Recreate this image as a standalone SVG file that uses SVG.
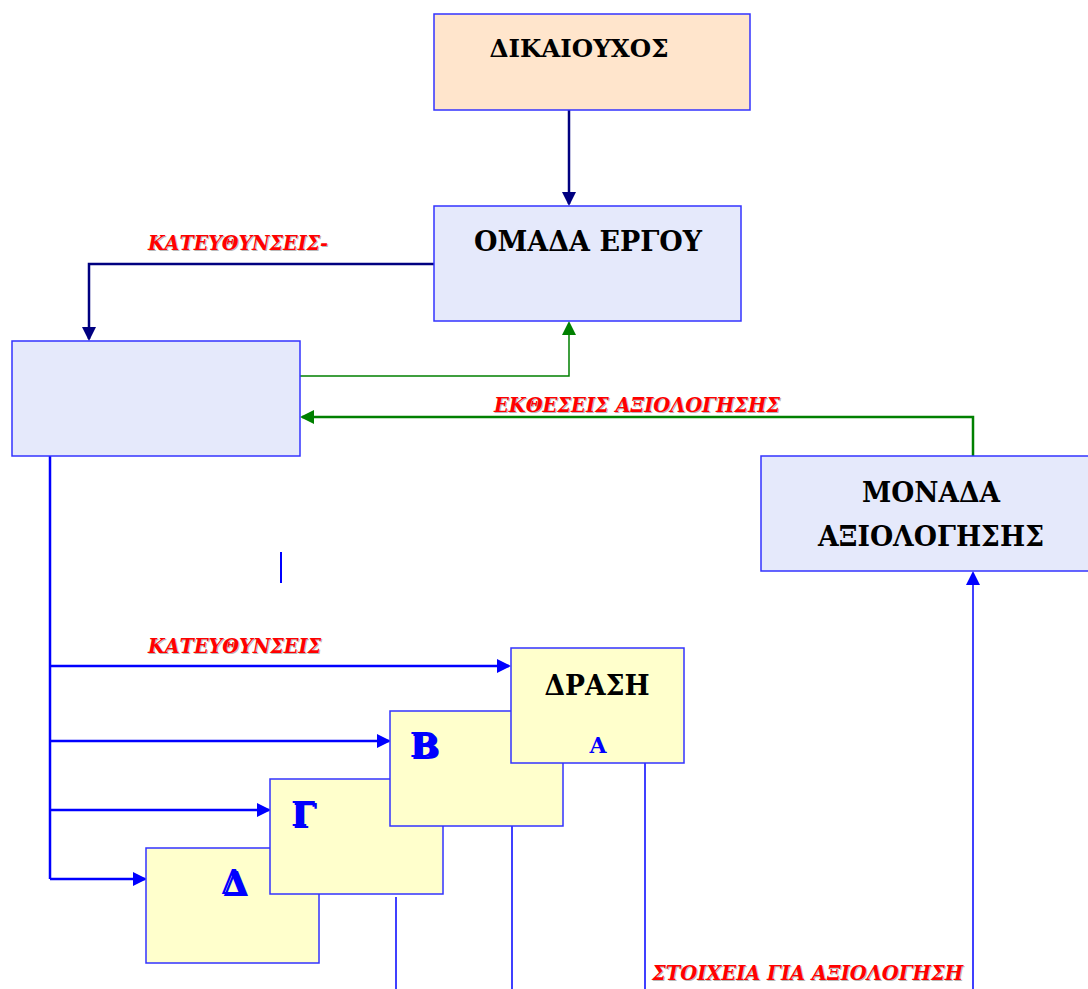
<svg xmlns="http://www.w3.org/2000/svg" width="1088" height="989" viewBox="0 0 1088 989">
<style>
.box{stroke:#3333ff;stroke-width:1.5}
.lav{fill:#e5e9fb}
.peach{fill:#ffe5cc}
.yel{fill:#ffffcc}
.t{font-family:"DejaVu Serif","Liberation Serif",serif;font-weight:bold;fill:#000;text-anchor:middle}
.lbl{font-family:"DejaVu Serif","Liberation Serif",serif;font-weight:bold;font-style:italic;font-size:20px;fill:#ff0000}
.sh{fill:#b8b8b8}
.big{font-family:"DejaVu Serif","Liberation Serif",serif;font-weight:bold;font-size:34px;fill:#0000ff;text-anchor:middle}
.navy{stroke:#000080;stroke-width:2.5;fill:none}
.green1{stroke:#008000;stroke-width:1.5;fill:none}
.green2{stroke:#008000;stroke-width:2.5;fill:none}
.blue{stroke:#0000ff;stroke-width:2.5;fill:none}
.blue1{stroke:#0000ff;stroke-width:1.5;fill:none}
</style>
<defs>
<marker id="aNavy" markerWidth="14" markerHeight="14" refX="12" refY="7" orient="auto" markerUnits="userSpaceOnUse"><path d="M0,0 L14,7 L0,14 z" fill="#000080"/></marker>
<marker id="aGreen" markerWidth="14" markerHeight="14" refX="12" refY="7" orient="auto" markerUnits="userSpaceOnUse"><path d="M0,0 L14,7 L0,14 z" fill="#008000"/></marker>
<marker id="aBlue" markerWidth="14" markerHeight="14" refX="12" refY="7" orient="auto" markerUnits="userSpaceOnUse"><path d="M0,0 L14,7 L0,14 z" fill="#0000ff"/></marker>
</defs>

<g id="connectors">
<path class="navy" d="M569,110 V204" marker-end="url(#aNavy)"/>
<path class="navy" d="M434,264 H89 V339" marker-end="url(#aNavy)"/>
<path class="green1" d="M300,376 H569 V323" marker-end="url(#aGreen)"/>
<path class="green2" d="M973,456 V417 H302" marker-end="url(#aGreen)"/>
<path class="blue" d="M50,456 V879"/>
<path class="blue" d="M50,666 H509" marker-end="url(#aBlue)"/>
<path class="blue" d="M50,741 H389" marker-end="url(#aBlue)"/>
<path class="blue" d="M50,810 H269" marker-end="url(#aBlue)"/>
<path class="blue" d="M50,879 H145" marker-end="url(#aBlue)"/>
<path class="blue1" d="M396,897 V989"/>
<path class="blue1" d="M512,826 V989"/>
<path class="blue1" d="M645,763 V989"/>
<path class="blue1" d="M973,989 V573" marker-end="url(#aBlue)"/>
<path d="M281,552 V583" stroke="#0000ff" stroke-width="2"/>
</g>

<g id="labels">
<text class="lbl sh" x="149" y="251" textLength="180" lengthAdjust="spacingAndGlyphs">ΚΑΤΕΥΘΥΝΣΕΙΣ-</text>
<text class="lbl" x="148" y="250" textLength="180" lengthAdjust="spacingAndGlyphs">ΚΑΤΕΥΘΥΝΣΕΙΣ-</text>
<text class="lbl sh" x="495" y="413" textLength="286" lengthAdjust="spacingAndGlyphs">ΕΚΘΕΣΕΙΣ ΑΞΙΟΛΟΓΗΣΗΣ</text>
<text class="lbl" x="494" y="412" textLength="286" lengthAdjust="spacingAndGlyphs">ΕΚΘΕΣΕΙΣ ΑΞΙΟΛΟΓΗΣΗΣ</text>
<text class="lbl sh" x="149" y="654" textLength="173" lengthAdjust="spacingAndGlyphs">ΚΑΤΕΥΘΥΝΣΕΙΣ</text>
<text class="lbl" x="148" y="653" textLength="173" lengthAdjust="spacingAndGlyphs">ΚΑΤΕΥΘΥΝΣΕΙΣ</text>
<text class="lbl sh" x="653" y="981" textLength="311" lengthAdjust="spacingAndGlyphs">ΣΤΟΙΧΕΙΑ ΓΙΑ ΑΞΙΟΛΟΓΗΣΗ</text>
<text class="lbl" x="652" y="980" textLength="311" lengthAdjust="spacingAndGlyphs">ΣΤΟΙΧΕΙΑ ΓΙΑ ΑΞΙΟΛΟΓΗΣΗ</text>
</g>

<g id="dikaiouxos">
<rect class="box peach" x="434" y="14" width="316" height="96"/>
<text class="t" x="579" y="57" font-size="25" textLength="179" lengthAdjust="spacingAndGlyphs">ΔΙΚΑΙΟΥΧΟΣ</text>
</g>

<g id="omada-ergou">
<rect class="box lav" x="434" y="206" width="307" height="115"/>
<text class="t" x="588" y="251" font-size="27" textLength="228" lengthAdjust="spacingAndGlyphs">ΟΜΑΔΑ ΕΡΓΟΥ</text>
</g>

<g id="left-box">
<rect class="box lav" x="12" y="341" width="288" height="115"/>
</g>

<g id="monada">
<rect class="box lav" x="761" y="456" width="340" height="115"/>
<text class="t" x="931" y="502" font-size="27" textLength="138" lengthAdjust="spacingAndGlyphs">ΜΟΝΑΔΑ</text>
<text class="t" x="931" y="546" font-size="27" textLength="226" lengthAdjust="spacingAndGlyphs">ΑΞΙΟΛΟΓΗΣΗΣ</text>
</g>

<g id="drasi-d">
<rect class="box yel" x="146" y="848" width="173" height="115"/>
<text class="big sh" x="236" y="896">Δ</text>
<text class="big" x="234" y="894">Δ</text>
</g>

<g id="drasi-g">
<rect class="box yel" x="270" y="779" width="173" height="115"/>
<text class="big sh" x="305" y="828">Γ</text>
<text class="big" x="303" y="826">Γ</text>
</g>

<g id="drasi-b">
<rect class="box yel" x="390" y="711" width="173" height="115"/>
<text class="big sh" x="426" y="759">Β</text>
<text class="big" x="424" y="757">Β</text>
</g>

<g id="drasi-a">
<rect class="box yel" x="511" y="648" width="173" height="115"/>
<text class="t" x="597" y="695" font-size="27" textLength="105" lengthAdjust="spacingAndGlyphs">ΔΡΑΣΗ</text>
<text class="t" x="598" y="753" font-size="22" style="fill:#0000ff">Α</text>
</g>
</svg>
